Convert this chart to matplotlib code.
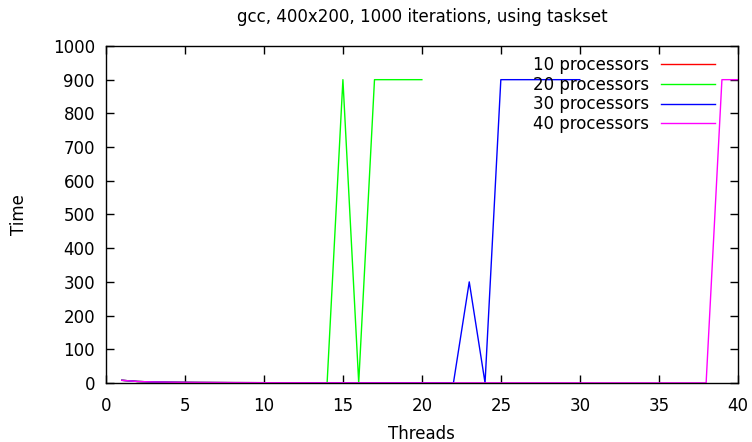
import matplotlib.pyplot as plt

# run times per thread count, one series per processor count
threads_10 = list(range(1, 11))
time_10 = [8, 4.5, 3, 2.3, 1.8, 1.5, 1.3, 1.1, 1.0, 0.9]

threads_20 = list(range(1, 21))
time_20 = [8, 4.5, 3, 2.3, 1.8, 1.5, 1.3, 1.1, 1.0, 0.9,
           0.8, 0.8, 0.7, 0.7, 900, 0.7, 900, 900, 900, 900]

threads_30 = list(range(1, 31))
time_30 = [8, 4.5, 3, 2.3, 1.8, 1.5, 1.3, 1.1, 1.0, 0.9,
           0.8, 0.8, 0.7, 0.7, 0.7, 0.6, 0.6, 0.6, 0.6, 0.6,
           0.5, 0.5, 300, 0.5, 900, 900, 900, 900, 900, 900]

threads_40 = list(range(1, 41))
time_40 = [8, 4.5, 3, 2.3, 1.8, 1.5, 1.3, 1.1, 1.0, 0.9,
           0.8, 0.8, 0.7, 0.7, 0.7, 0.6, 0.6, 0.6, 0.6, 0.6,
           0.5, 0.5, 0.5, 0.5, 0.5, 0.5, 0.5, 0.5, 0.5, 0.5,
           0.4, 0.4, 0.4, 0.4, 0.4, 0.4, 0.4, 0.4, 900, 900]

plt.rcParams['font.size'] = 12

fig = plt.figure(figsize=(7.52, 4.42), dpi=100)
ax = fig.add_axes([0.141, 0.1335, 0.84, 0.7625])

ax.plot(threads_10, time_10, color='#ff0000', lw=1, label='10 processors')
ax.plot(threads_20, time_20, color='#00ff00', lw=1, label='20 processors')
ax.plot(threads_30, time_30, color='#0000ff', lw=1, label='30 processors')
ax.plot(threads_40, time_40, color='#ff00ff', lw=1, label='40 processors')

ax.set_xlim(0, 40)
ax.set_ylim(0, 1000)
ax.set_xticks(range(0, 41, 5))
ax.set_yticks(range(0, 1001, 100))
ax.tick_params(direction='in', top=True, right=True, length=6, width=1)
ax.tick_params(axis='x', pad=10)
ax.tick_params(axis='y', pad=8)
for s in ax.spines.values():
    s.set_linewidth(1)

ax.set_xlabel('Threads', labelpad=7)
ax.set_ylabel('Time', labelpad=18)
ax.set_title('gcc, 400x200, 1000 iterations, using taskset', fontsize=12, pad=17.5)

ax.legend(loc='upper right', markerfirst=False, frameon=False,
          handlelength=3.2, labelspacing=0.1, borderaxespad=0.0,
          handletextpad=0.75, bbox_to_anchor=(0.974, 0.99))

fig.savefig('out.png', dpi=100)
